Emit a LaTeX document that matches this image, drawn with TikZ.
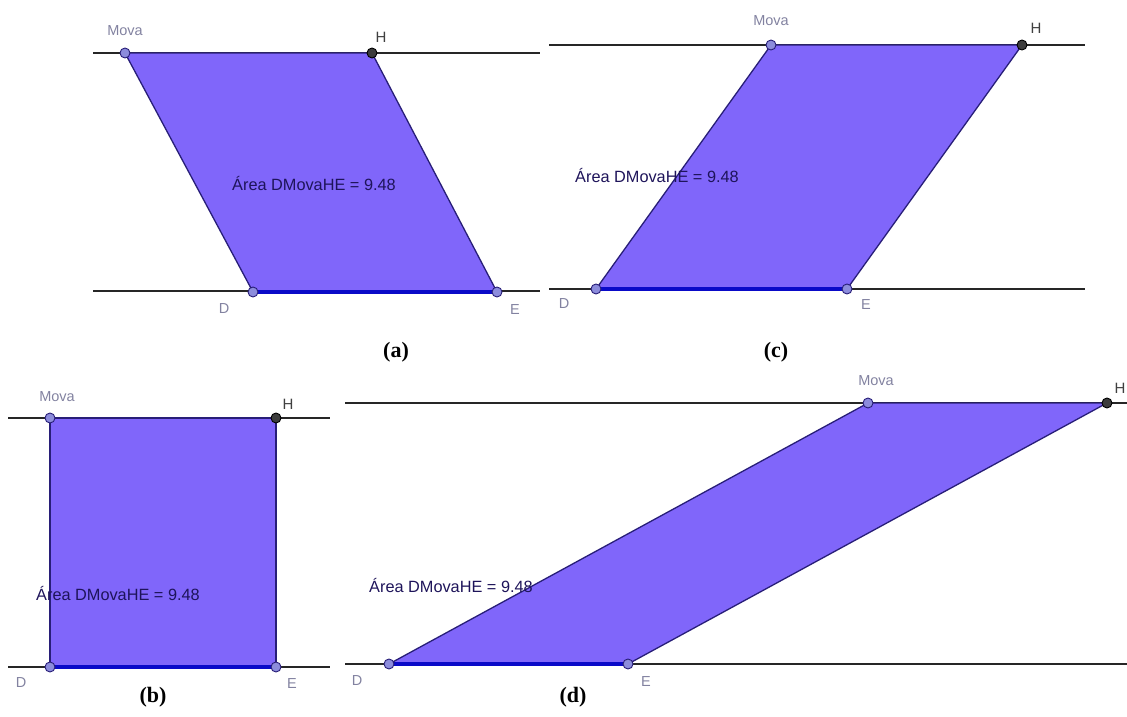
\documentclass[tikz,border=0pt]{standalone}
\usepackage{fontspec}
\setmainfont{Liberation Serif}
\newfontfamily\lsans{Liberation Sans}
\definecolor{polyfill}{RGB}{128,102,250}
\definecolor{polyedge}{RGB}{40,30,120}
\definecolor{segblue}{RGB}{10,10,200}
\definecolor{ptlight}{RGB}{140,140,220}
\definecolor{ptdark}{RGB}{60,60,60}
\definecolor{lblgray}{RGB}{130,130,160}
\definecolor{arealbl}{RGB}{30,20,90}
\tikzset{
  hline/.style={draw=black!85, line width=1.3pt},
  poly/.style={fill=polyfill, draw=polyedge, line width=1.3pt, line join=round},
  seg/.style={draw=segblue, line width=3.5pt},
  ptl/.style={circle, fill=ptlight, draw=polyedge, line width=0.9pt, inner sep=0pt, minimum size=10pt},
  ptd/.style={circle, fill=ptdark, draw=black, line width=0.9pt, inner sep=0pt, minimum size=10pt},
  lbl/.style={font=\lsans\fontsize{14.5}{14.5}\selectfont, text=lblgray, inner sep=0pt},
  lblh/.style={font=\lsans\fontsize{15}{15}\selectfont, text=black!75, inner sep=0pt},
  area/.style={font=\lsans\fontsize{16.3}{16.3}\selectfont, text=arealbl, inner sep=0pt},
  captxt/.style={font=\bfseries\fontsize{22}{22}\selectfont, inner sep=0pt}
}
\begin{document}
\begin{tikzpicture}[x=1pt, y=-1pt]
\useasboundingbox (0,0) rectangle (1127,717);
% ---------- (a)
\coordinate (aL1) at (93,53); \coordinate (aR1) at (540,53);
\coordinate (aL2) at (93,291); \coordinate (aR2) at (540,291);
\coordinate (aM) at (125,53); \coordinate (aH) at (372,53);
\coordinate (aD) at (253,292); \coordinate (aE) at (497,292);
\draw[hline] (aL1) -- (aR1);
\draw[hline] (aL2) -- (aR2);
\draw[poly] (aD) -- (aM) -- (aH) -- (aE) -- cycle;
\draw[seg] (aD) -- (aE);
\node[ptl] (paM) at (aM) {};
\node[ptd] (paH) at (aH) {};
\node[ptl] (paD) at (aD) {};
\node[ptl] (paE) at (aE) {};
\node[lbl] (laM) at (125,31) {Mova};
\node[lblh] (laH) at (381,37) {H};
\node[lbl] (laD) at (224,309) {D};
\node[lbl] (laE) at (515,310) {E};
\node[area] (laA) at (314,184) {Área DMovaHE = 9.48};
\node[captxt] (capa) at (396,352) {(a)};
% ---------- (c)
\coordinate (cL1) at (549,45); \coordinate (cR1) at (1085,45);
\coordinate (cL2) at (549,289); \coordinate (cR2) at (1085,289);
\coordinate (cM) at (771,45); \coordinate (cH) at (1022,45);
\coordinate (cD) at (596,289); \coordinate (cE) at (847,289);
\draw[hline] (cL1) -- (cR1);
\draw[hline] (cL2) -- (cR2);
\draw[poly] (cD) -- (cM) -- (cH) -- (cE) -- cycle;
\draw[seg] (cD) -- (cE);
\node[ptl] (pcM) at (cM) {};
\node[ptd] (pcH) at (cH) {};
\node[ptl] (pcD) at (cD) {};
\node[ptl] (pcE) at (cE) {};
\node[lbl] (lcM) at (771,21) {Mova};
\node[lblh] (lcH) at (1036,28) {H};
\node[lbl] (lcD) at (564,304) {D};
\node[lbl] (lcE) at (866,305) {E};
\node[area] (lcA) at (657,176) {Área DMovaHE = 9.48};
\node[captxt] (capc) at (776,352) {(c)};
% ---------- (b)
\coordinate (bL1) at (8,418); \coordinate (bR1) at (330,418);
\coordinate (bL2) at (8,667); \coordinate (bR2) at (330,667);
\coordinate (bM) at (50,418); \coordinate (bH) at (276,418);
\coordinate (bD) at (50,667); \coordinate (bE) at (276,667);
\draw[hline] (bL1) -- (bR1);
\draw[hline] (bL2) -- (bR2);
\draw[poly] (bD) -- (bM) -- (bH) -- (bE) -- cycle;
\draw[seg] (bD) -- (bE);
\node[ptl] (pbM) at (bM) {};
\node[ptd] (pbH) at (bH) {};
\node[ptl] (pbD) at (bD) {};
\node[ptl] (pbE) at (bE) {};
\node[lbl] (lbM) at (57,397) {Mova};
\node[lblh] (lbH) at (288,404) {H};
\node[lbl] (lbD) at (21,683) {D};
\node[lbl] (lbE) at (292,684) {E};
\node[area] (lbA) at (118,594) {Área DMovaHE = 9.48};
\node[captxt] (capb) at (153,697) {(b)};
% ---------- (d)
\coordinate (dL1) at (345,403); \coordinate (dR1) at (1127,403);
\coordinate (dL2) at (345,664); \coordinate (dR2) at (1127,664);
\coordinate (dM) at (868,403); \coordinate (dH) at (1107,403);
\coordinate (dD) at (389,664); \coordinate (dE) at (628,664);
\draw[hline] (dL1) -- (dR1);
\draw[hline] (dL2) -- (dR2);
\draw[poly] (dD) -- (dM) -- (dH) -- (dE) -- cycle;
\draw[seg] (dD) -- (dE);
\node[ptl] (pdM) at (dM) {};
\node[ptd] (pdH) at (dH) {};
\node[ptl] (pdD) at (dD) {};
\node[ptl] (pdE) at (dE) {};
\node[lbl] (ldM) at (876,381) {Mova};
\node[lblh] (ldH) at (1120,388) {H};
\node[lbl] (ldD) at (357,681) {D};
\node[lbl] (ldE) at (646,682) {E};
\node[area] (ldA) at (451,586) {Área DMovaHE = 9.48};
\node[captxt] (capd) at (573,697) {(d)};
\end{tikzpicture}
\end{document}
